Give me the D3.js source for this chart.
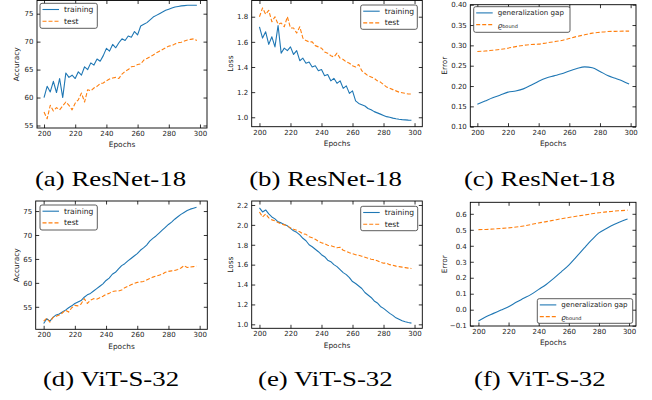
<!DOCTYPE html>
<html>
<head>
<meta charset="utf-8">
<script src="https://cdn.jsdelivr.net/npm/d3@7"></script>
<style>
  body { margin: 0; background: #fff; }
  svg { display: block; }
</style>
</head>
<body>
<svg id="fig" width="652" height="400"></svg>
<script>
// ---- data ---------------------------------------------------------------
const epochs = d3.range(200, 300, 2);
const epochsSmooth = [200, 205, 210, 215, 220, 225, 230, 235, 240, 245, 250,
                      255, 260, 265, 270, 275, 280, 285, 290, 295, 299];

const xTicks = [200, 220, 240, 260, 280, 300];

// ResNet-18
const resnetAccTrain = [60.0,62.0,61.0,62.9,60.9,63.4,60.0,64.4,63.6,64.0,63.4,64.6,64.0,65.5,65.0,66.2,65.8,66.9,66.5,67.5,
  68.8,68.3,69.5,68.9,69.8,70.5,70.2,71.0,70.8,71.8,71.2,72.8,73.1,73.4,73.9,74.4,74.7,75.0,75.3,75.6,
  75.8,76.0,76.2,76.3,76.4,76.45,76.5,76.5,76.5,76.5];
const resnetAccTest = [57.4,56.2,58.6,57.6,58.2,57.8,58.5,59.2,58.6,57.8,59.0,59.6,60.8,59.2,61.4,61.2,61.7,62.0,62.5,62.6,
  63.0,63.3,63.5,63.6,63.4,64.2,64.7,65.0,65.5,65.6,65.9,66.0,66.7,67.0,67.3,67.6,68.0,68.3,68.6,68.9,
  69.2,69.3,69.6,69.8,69.9,70.1,70.3,70.4,70.5,70.2];
const resnetLossTrain = [1.72,1.63,1.68,1.58,1.64,1.56,1.73,1.51,1.55,1.53,1.56,1.50,1.53,1.45,1.47,1.43,1.44,1.40,1.41,1.37,
  1.38,1.33,1.34,1.29,1.31,1.27,1.29,1.23,1.25,1.19,1.21,1.13,1.11,1.10,1.09,1.07,1.06,1.045,1.035,1.025,
  1.015,1.005,1.0,0.993,0.988,0.984,0.981,0.979,0.977,0.976];
const resnetLossTest = [1.80,1.87,1.82,1.85,1.76,1.80,1.74,1.75,1.72,1.80,1.71,1.71,1.67,1.72,1.63,1.61,1.60,1.60,1.57,1.56,
  1.55,1.52,1.51,1.49,1.48,1.51,1.47,1.46,1.44,1.43,1.41,1.40,1.42,1.37,1.35,1.33,1.32,1.31,1.29,1.28,
  1.26,1.24,1.23,1.22,1.21,1.20,1.195,1.19,1.185,1.185];
const resnetGap = [0.155,0.163,0.171,0.178,0.185,0.188,0.193,0.202,0.212,0.220,0.225,0.230,0.237,0.243,0.247,0.245,
  0.236,0.226,0.219,0.212,0.205];
const resnetBound = [0.285,0.286,0.288,0.290,0.293,0.297,0.300,0.302,0.303,0.306,0.309,0.312,0.317,0.322,0.326,0.330,
  0.332,0.334,0.3345,0.335,0.335];

// ViT-S-32
const vitAccTrain = [51.5,52.5,52.0,52.8,53.3,53.5,53.9,54.3,54.8,55.2,55.7,56.0,56.3,57.0,57.5,57.8,58.3,58.8,59.3,59.8,
  60.5,61.0,61.8,62.2,62.9,63.6,64.0,64.6,65.1,65.6,66.1,66.8,67.3,67.9,68.7,69.3,69.8,70.4,71.0,71.6,
  72.2,72.7,73.3,73.8,74.3,74.7,75.1,75.4,75.6,75.8];
const vitAccTest = [52.0,52.6,51.8,52.8,53.0,53.3,53.7,54.3,53.9,54.8,55.3,55.2,55.6,56.7,55.7,56.4,56.7,56.6,56.9,57.2,
  57.6,57.8,58.2,58.3,58.3,58.5,59.0,59.3,59.6,59.9,60.1,60.2,60.3,60.6,60.9,61.2,61.4,61.6,61.8,62.2,
  62.4,62.5,62.6,62.8,63.1,63.6,63.2,63.3,63.4,63.5];
const vitLossTrain = [2.17,2.13,2.15,2.11,2.08,2.06,2.03,2.02,2.005,1.99,1.965,1.94,1.925,1.90,1.865,1.84,1.80,1.78,1.755,1.73,
  1.70,1.68,1.645,1.63,1.60,1.58,1.55,1.52,1.50,1.47,1.43,1.41,1.385,1.36,1.32,1.295,1.27,1.235,1.215,1.18,
  1.16,1.135,1.11,1.09,1.065,1.05,1.035,1.025,1.018,1.012];
const vitLossTest = [2.13,2.08,2.11,2.07,2.05,2.04,2.025,2.01,2.0,1.99,1.97,1.955,1.945,1.93,1.91,1.905,1.88,1.87,1.855,1.835,
  1.82,1.81,1.795,1.79,1.78,1.77,1.775,1.745,1.735,1.72,1.71,1.70,1.695,1.685,1.675,1.665,1.655,1.65,1.64,1.625,
  1.615,1.615,1.60,1.595,1.585,1.58,1.575,1.57,1.565,1.562];
const vitGap = [-0.071,-0.044,-0.023,-0.002,0.019,0.046,0.071,0.096,0.127,0.158,0.196,0.237,0.279,0.331,0.383,0.435,
  0.481,0.508,0.533,0.554,0.567];
const vitBound = [0.501,0.502,0.505,0.508,0.512,0.517,0.524,0.533,0.543,0.551,0.560,0.569,0.577,0.585,0.592,0.600,
  0.607,0.612,0.617,0.620,0.623];

// tick values
const resnetAccTicks = [55, 60, 65, 70, 75];
const resnetLossTicks = [1.0, 1.2, 1.4, 1.6, 1.8];
const resnetErrTicks = [0.10, 0.15, 0.20, 0.25, 0.30, 0.35, 0.40];
const vitAccTicks = [55, 60, 65, 70, 75];
const vitLossTicks = [1.0, 1.2, 1.4, 1.6, 1.8, 2.0, 2.2];
const vitErrTicks = [-0.1, 0.0, 0.1, 0.2, 0.3, 0.4, 0.5, 0.6];

// labels
const trainTestLabels = ["training", "test"];
const gapLabels = ["generalization gap", "ϱ_bound"];
const captions = ["(a) ResNet-18", "(b) ResNet-18", "(c) ResNet-18",
                  "(d) ViT-S-32", "(e) ViT-S-32", "(f) ViT-S-32"];

// ---- styling ------------------------------------------------------------
const FONT = "'DejaVu Sans', sans-serif";
const BLUE = "#1f77b4", ORANGE = "#ff7f0e";
const TEXT = "#222";
const TICK_LEN = 3.5;
const LINE_W = 1.1;
const DASH = "4,2";

// ---- layout -------------------------------------------------------------
const panels = [
  { box: [37, 207, 0.5, 128], xDomain: [195.5, 304.5], yDomain: [54.55, 77.36], yTicks: resnetAccTicks, fmt: d3.format("d"),
    ylabel: "Accuracy", ylx: 16.7, xlabelY: 144,
    series: [{ x: epochs, y: resnetAccTrain, c: BLUE }, { x: epochs, y: resnetAccTest, c: ORANGE, dash: true }],
    legend: { x: 40, y: 3.3, w: 57.3, h: 25, labels: trainTestLabels, font: 7.6 },
    caption: { text: captions[0], x: 110.5, y: 186 } },
  { box: [251.7, 422.3, 0.5, 126.7], xDomain: [195, 305], yDomain: [0.925, 1.929], yTicks: resnetLossTicks, fmt: d3.format(".1f"),
    ylabel: "Loss", ylx: 230.7, xlabelY: 143.3,
    series: [{ x: epochs, y: resnetLossTrain, c: BLUE }, { x: epochs, y: resnetLossTest, c: ORANGE, dash: true }],
    legend: { x: 360.7, y: 5, w: 56.6, h: 24.3, labels: trainTestLabels, font: 7.6 },
    caption: { text: captions[1], x: 325.5, y: 186 } },
  { box: [470.3, 636, 4.7, 126.7], xDomain: [195.4, 303.5], yDomain: [0.10, 0.40], yTicks: resnetErrTicks, fmt: d3.format(".2f"),
    ylabel: "Error", ylx: 444.3, xlabelY: 143.3, smooth: true,
    series: [{ x: epochsSmooth, y: resnetGap, c: BLUE }, { x: epochsSmooth, y: resnetBound, c: ORANGE, dash: true }],
    legend: { x: 473.7, y: 6.7, w: 96.3, h: 25.6, labels: gapLabels, font: 7.1 },
    caption: { text: captions[2], x: 539.5, y: 186 } },
  { box: [35.7, 207.3, 201, 329.3], xDomain: [194.9, 304.9], yDomain: [50.3, 77.1], yTicks: vitAccTicks, fmt: d3.format("d"),
    ylabel: "Accuracy", ylx: 16.7, xlabelY: 346,
    series: [{ x: epochs, y: vitAccTrain, c: BLUE }, { x: epochs, y: vitAccTest, c: ORANGE, dash: true }],
    legend: { x: 40, y: 205, w: 57.3, h: 25, labels: trainTestLabels, font: 7.6 },
    caption: { text: captions[3], x: 111, y: 386 } },
  { box: [251.7, 422.3, 201, 328.3], xDomain: [195, 305], yDomain: [0.96, 2.24], yTicks: vitLossTicks, fmt: d3.format(".1f"),
    ylabel: "Loss", ylx: 230.7, xlabelY: 345,
    series: [{ x: epochs, y: vitLossTrain, c: BLUE }, { x: epochs, y: vitLossTest, c: ORANGE, dash: true }],
    legend: { x: 360.7, y: 206.3, w: 57, h: 24.4, labels: trainTestLabels, font: 7.6 },
    caption: { text: captions[4], x: 325.3, y: 386 } },
  { box: [470.3, 636, 202.3, 326], xDomain: [194.6, 304.6], yDomain: [-0.102, 0.672], yTicks: vitErrTicks, fmt: d3.format(".1f"),
    ylabel: "Error", ylx: 444.3, xlabelY: 342.3, smooth: true,
    series: [{ x: epochsSmooth, y: vitGap, c: BLUE }, { x: epochsSmooth, y: vitBound, c: ORANGE, dash: true }],
    legend: { x: 537.3, y: 298.7, w: 95.4, h: 24.6, labels: gapLabels, font: 7.1 },
    caption: { text: captions[5], x: 539.8, y: 386 } }
];

const fig = d3.select("#fig");

function styleAxis(sel) {
  sel.select(".domain").remove();
  sel.selectAll(".tick line").attr("stroke", "#000").attr("stroke-width", 0.8);
  sel.selectAll(".tick text").attr("fill", TEXT).attr("font-family", FONT).attr("font-size", 7);
}

function drawPanel(p) {
  const [L, R, T, B] = p.box;
  const x = d3.scaleLinear().domain(p.xDomain).range([L, R]);
  const y = d3.scaleLinear().domain(p.yDomain).range([B, T]);
  const g = fig.append("g");

  // series
  const line = d3.line()
    .x(d => x(d[0]))
    .y(d => y(d[1]))
    .curve(p.smooth ? d3.curveMonotoneX : d3.curveLinear);
  p.series.forEach(s => {
    g.append("path")
      .datum(d3.zip(s.x, s.y))
      .attr("d", line)
      .attr("fill", "none")
      .attr("stroke", s.c)
      .attr("stroke-width", LINE_W)
      .attr("stroke-linejoin", "round")
      .attr("stroke-dasharray", s.dash ? DASH : null);
  });

  // inward ticks on all four sides
  g.append("g").attr("transform", `translate(0,${B})`)
    .call(d3.axisBottom(x).tickValues(xTicks).tickSize(-TICK_LEN).tickSizeOuter(0).tickPadding(3).tickFormat(d3.format("d")))
    .call(styleAxis);
  g.append("g").attr("transform", `translate(0,${T})`)
    .call(d3.axisTop(x).tickValues(xTicks).tickSize(-TICK_LEN).tickSizeOuter(0).tickFormat(() => ""))
    .call(styleAxis);
  g.append("g").attr("transform", `translate(${L},0)`)
    .call(d3.axisLeft(y).tickValues(p.yTicks).tickSize(-TICK_LEN).tickSizeOuter(0).tickPadding(3.5).tickFormat(p.fmt))
    .call(styleAxis);
  g.append("g").attr("transform", `translate(${R},0)`)
    .call(d3.axisRight(y).tickValues(p.yTicks).tickSize(-TICK_LEN).tickSizeOuter(0).tickFormat(() => ""))
    .call(styleAxis);

  // frame
  g.append("rect")
    .attr("x", L).attr("y", T).attr("width", R - L).attr("height", B - T)
    .attr("fill", "none").attr("stroke", "#000").attr("stroke-width", 0.9);

  // axis titles
  g.append("text")
    .attr("transform", `translate(${p.ylx},${(T + B) / 2}) rotate(-90)`)
    .attr("text-anchor", "middle").attr("dominant-baseline", "central")
    .attr("font-family", FONT).attr("font-size", 7.4).attr("fill", TEXT)
    .text(p.ylabel);
  g.append("text")
    .attr("x", (L + R) / 2).attr("y", p.xlabelY)
    .attr("text-anchor", "middle").attr("dominant-baseline", "central")
    .attr("font-family", FONT).attr("font-size", 7.4).attr("fill", TEXT)
    .text("Epochs");

  // legend
  const lg = p.legend;
  const leg = g.append("g");
  leg.append("rect")
    .attr("x", lg.x).attr("y", lg.y).attr("width", lg.w).attr("height", lg.h)
    .attr("rx", 2).attr("fill", "#fff").attr("stroke", "#333").attr("stroke-width", 0.8);
  p.series.forEach((s, i) => {
    const ry = lg.y + 6.2 + i * 11.7;
    leg.append("line")
      .attr("x1", lg.x + 2.5).attr("x2", lg.x + 19).attr("y1", ry).attr("y2", ry)
      .attr("stroke", s.c).attr("stroke-width", LINE_W)
      .attr("stroke-dasharray", s.dash ? DASH : null);
    const t = leg.append("text")
      .attr("x", lg.x + 24).attr("y", ry)
      .attr("dominant-baseline", "central")
      .attr("font-family", FONT).attr("font-size", lg.font).attr("fill", TEXT);
    const [main, sub] = lg.labels[i].split("_");
    if (sub) {
      t.append("tspan").attr("font-style", "italic").text(main);
      t.append("tspan").attr("font-size", lg.font * 0.7).attr("dy", 1.6).text(sub);
    } else {
      t.text(main);
    }
  });

  // caption
  fig.append("text")
    .attr("transform", `translate(${p.caption.x},${p.caption.y}) scale(1.22,1)`)
    .attr("text-anchor", "middle")
    .attr("font-family", "'Liberation Serif', serif").attr("font-size", 22).attr("fill", "#000")
    .text(p.caption.text);
}

panels.forEach(drawPanel);
</script>
</body>
</html>
